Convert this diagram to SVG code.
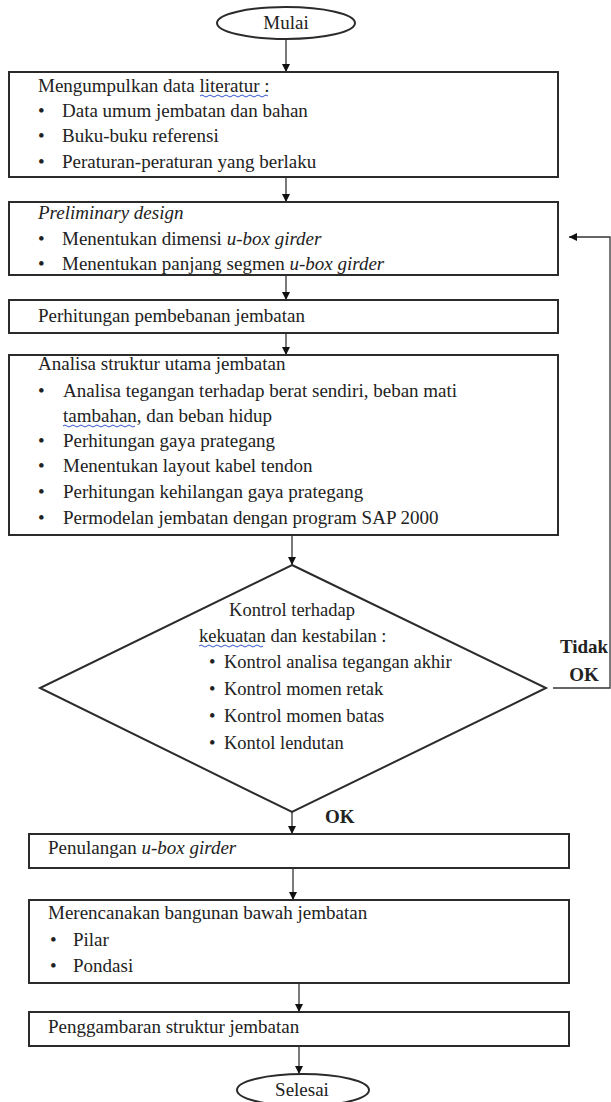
<svg xmlns="http://www.w3.org/2000/svg" width="611" height="1102" viewBox="0 0 611 1102">
<style>
.box{fill:#fff;stroke:#2b2b2b;stroke-width:2}
.t{font-family:"Liberation Serif","Times New Roman",serif;font-size:19px;fill:#222}
.d{font-size:18.5px}
.i{font-style:italic}
.b{font-weight:bold}
.c{text-anchor:middle}
.ln{fill:none;stroke:#333;stroke-width:1.3}
.sq{fill:none;stroke:#3355cc;stroke-width:1}
</style>
<defs>
<marker id="ah" viewBox="0 0 10 10" refX="10" refY="5" markerWidth="8" markerHeight="8" markerUnits="userSpaceOnUse" orient="auto">
<path d="M0,0 L10,5 L0,10 Z" fill="#111"/>
</marker>
</defs>
<g id="connectors">
<line class="ln" x1="286" y1="39" x2="286" y2="72" marker-end="url(#ah)"/>
<line class="ln" x1="286" y1="177" x2="286" y2="202" marker-end="url(#ah)"/>
<line class="ln" x1="286" y1="275" x2="286" y2="300" marker-end="url(#ah)"/>
<line class="ln" x1="286" y1="333" x2="286" y2="355" marker-end="url(#ah)"/>
<line class="ln" x1="292" y1="535" x2="292" y2="565" marker-end="url(#ah)"/>
<line class="ln" x1="292" y1="812" x2="292" y2="834" marker-end="url(#ah)"/>
<line class="ln" x1="293" y1="868" x2="293" y2="900" marker-end="url(#ah)"/>
<line class="ln" x1="299" y1="983" x2="299" y2="1012" marker-end="url(#ah)"/>
<line class="ln" x1="299" y1="1046" x2="299" y2="1074" marker-end="url(#ah)"/>
<polyline class="ln" points="553,688 610,688 610,237 569,237" marker-end="url(#ah)"/>
<text class="t b c" x="584" y="653" font-size="18">Tidak</text>
<text class="t b c" x="584" y="681" font-size="18">OK</text>
<text class="t b" x="325" y="823" font-size="18">OK</text>
</g>
<g id="mulai">
<ellipse cx="286" cy="23" rx="69" ry="16" fill="#fff" stroke="#2b2b2b" stroke-width="2"/>
<text class="t c" x="286" y="29">Mulai</text>
</g>
<g id="literatur">
<rect class="box" x="9" y="72" width="549" height="105"/>
<text class="t" x="38" y="92">Mengumpulkan data literatur :</text>
<path class="sq" d="M200,96 q2,-2 4,0 t4,0 t4,0 t4,0 t4,0 t4,0 t4,0 t4,0 t4,0 t4,0 t4,0 t4,0 t4,0 t4,0 t4,0 t4,0 t4,0"/>
<text class="t" x="38" y="117">•</text><text class="t" x="62" y="117">Data umum jembatan dan bahan</text>
<text class="t" x="38" y="142">•</text><text class="t" x="62" y="142">Buku-buku referensi</text>
<text class="t" x="38" y="168">•</text><text class="t" x="62" y="168">Peraturan-peraturan yang berlaku</text>
</g>
<g id="preliminary">
<rect class="box" x="9" y="202" width="549" height="73"/>
<text class="t i" x="38" y="219">Preliminary design</text>
<text class="t" x="38" y="245">•</text><text class="t" x="62" y="245">Menentukan dimensi <tspan class="i">u-box girder</tspan></text>
<text class="t" x="38" y="270">•</text><text class="t" x="62" y="270">Menentukan panjang segmen <tspan class="i">u-box girder</tspan></text>
</g>
<g id="pembebanan">
<rect class="box" x="9" y="300" width="549" height="33"/>
<text class="t" x="38" y="322">Perhitungan pembebanan jembatan</text>
</g>
<g id="analisa">
<rect class="box" x="9" y="355" width="549" height="180"/>
<text class="t" x="38" y="370">Analisa struktur utama jembatan</text>
<text class="t" x="38" y="397">•</text><text class="t" x="63" y="397">Analisa tegangan terhadap berat sendiri, beban mati</text>
<text class="t" x="63" y="422">tambahan, dan beban hidup</text>
<path class="sq" d="M63,426 q2,-2 4,0 t4,0 t4,0 t4,0 t4,0 t4,0 t4,0 t4,0 t4,0 t4,0 t4,0 t4,0 t4,0 t4,0 t4,0 t4,0 t4,0 t4,0"/>
<text class="t" x="38" y="447">•</text><text class="t" x="63" y="447">Perhitungan gaya prategang</text>
<text class="t" x="38" y="472">•</text><text class="t" x="63" y="472">Menentukan layout kabel tendon</text>
<text class="t" x="38" y="498">•</text><text class="t" x="63" y="498">Perhitungan kehilangan gaya prategang</text>
<text class="t" x="38" y="524">•</text><text class="t" x="63" y="524">Permodelan jembatan dengan program SAP 2000</text>
</g>
<g id="kontrol">
<polygon points="292,565 546,688 292,812 40,688" fill="#fff" stroke="#2b2b2b" stroke-width="2"/>
<text class="t d c" x="292" y="616">Kontrol terhadap</text>
<text class="t d" x="199" y="642">kekuatan dan kestabilan :</text>
<path class="sq" d="M199,646 q2,-2 4,0 t4,0 t4,0 t4,0 t4,0 t4,0 t4,0 t4,0 t4,0 t4,0 t4,0 t4,0 t4,0 t4,0 t4,0 t4,0"/>
<text class="t d" x="209" y="668">•</text><text class="t d" x="224" y="668">Kontrol analisa tegangan akhir</text>
<text class="t d" x="209" y="695">•</text><text class="t d" x="224" y="695">Kontrol momen retak</text>
<text class="t d" x="209" y="722">•</text><text class="t d" x="224" y="722">Kontrol momen batas</text>
<text class="t d" x="209" y="749">•</text><text class="t d" x="224" y="749">Kontol lendutan</text>
</g>
<g id="penulangan">
<rect class="box" x="29" y="834" width="540" height="34"/>
<text class="t" x="48" y="854">Penulangan <tspan class="i">u-box girder</tspan></text>
</g>
<g id="bangunan-bawah">
<rect class="box" x="29" y="900" width="540" height="83"/>
<text class="t" x="48" y="919">Merencanakan bangunan bawah jembatan</text>
<text class="t" x="50" y="946">•</text><text class="t" x="73" y="946">Pilar</text>
<text class="t" x="50" y="972">•</text><text class="t" x="73" y="972">Pondasi</text>
</g>
<g id="penggambaran">
<rect class="box" x="29" y="1012" width="540" height="34"/>
<text class="t" x="48" y="1033">Penggambaran struktur jembatan</text>
</g>
<g id="selesai">
<ellipse cx="303" cy="1090" rx="66" ry="16" fill="#fff" stroke="#2b2b2b" stroke-width="2"/>
<text class="t c" x="302" y="1096">Selesai</text>
</g>
</svg>
